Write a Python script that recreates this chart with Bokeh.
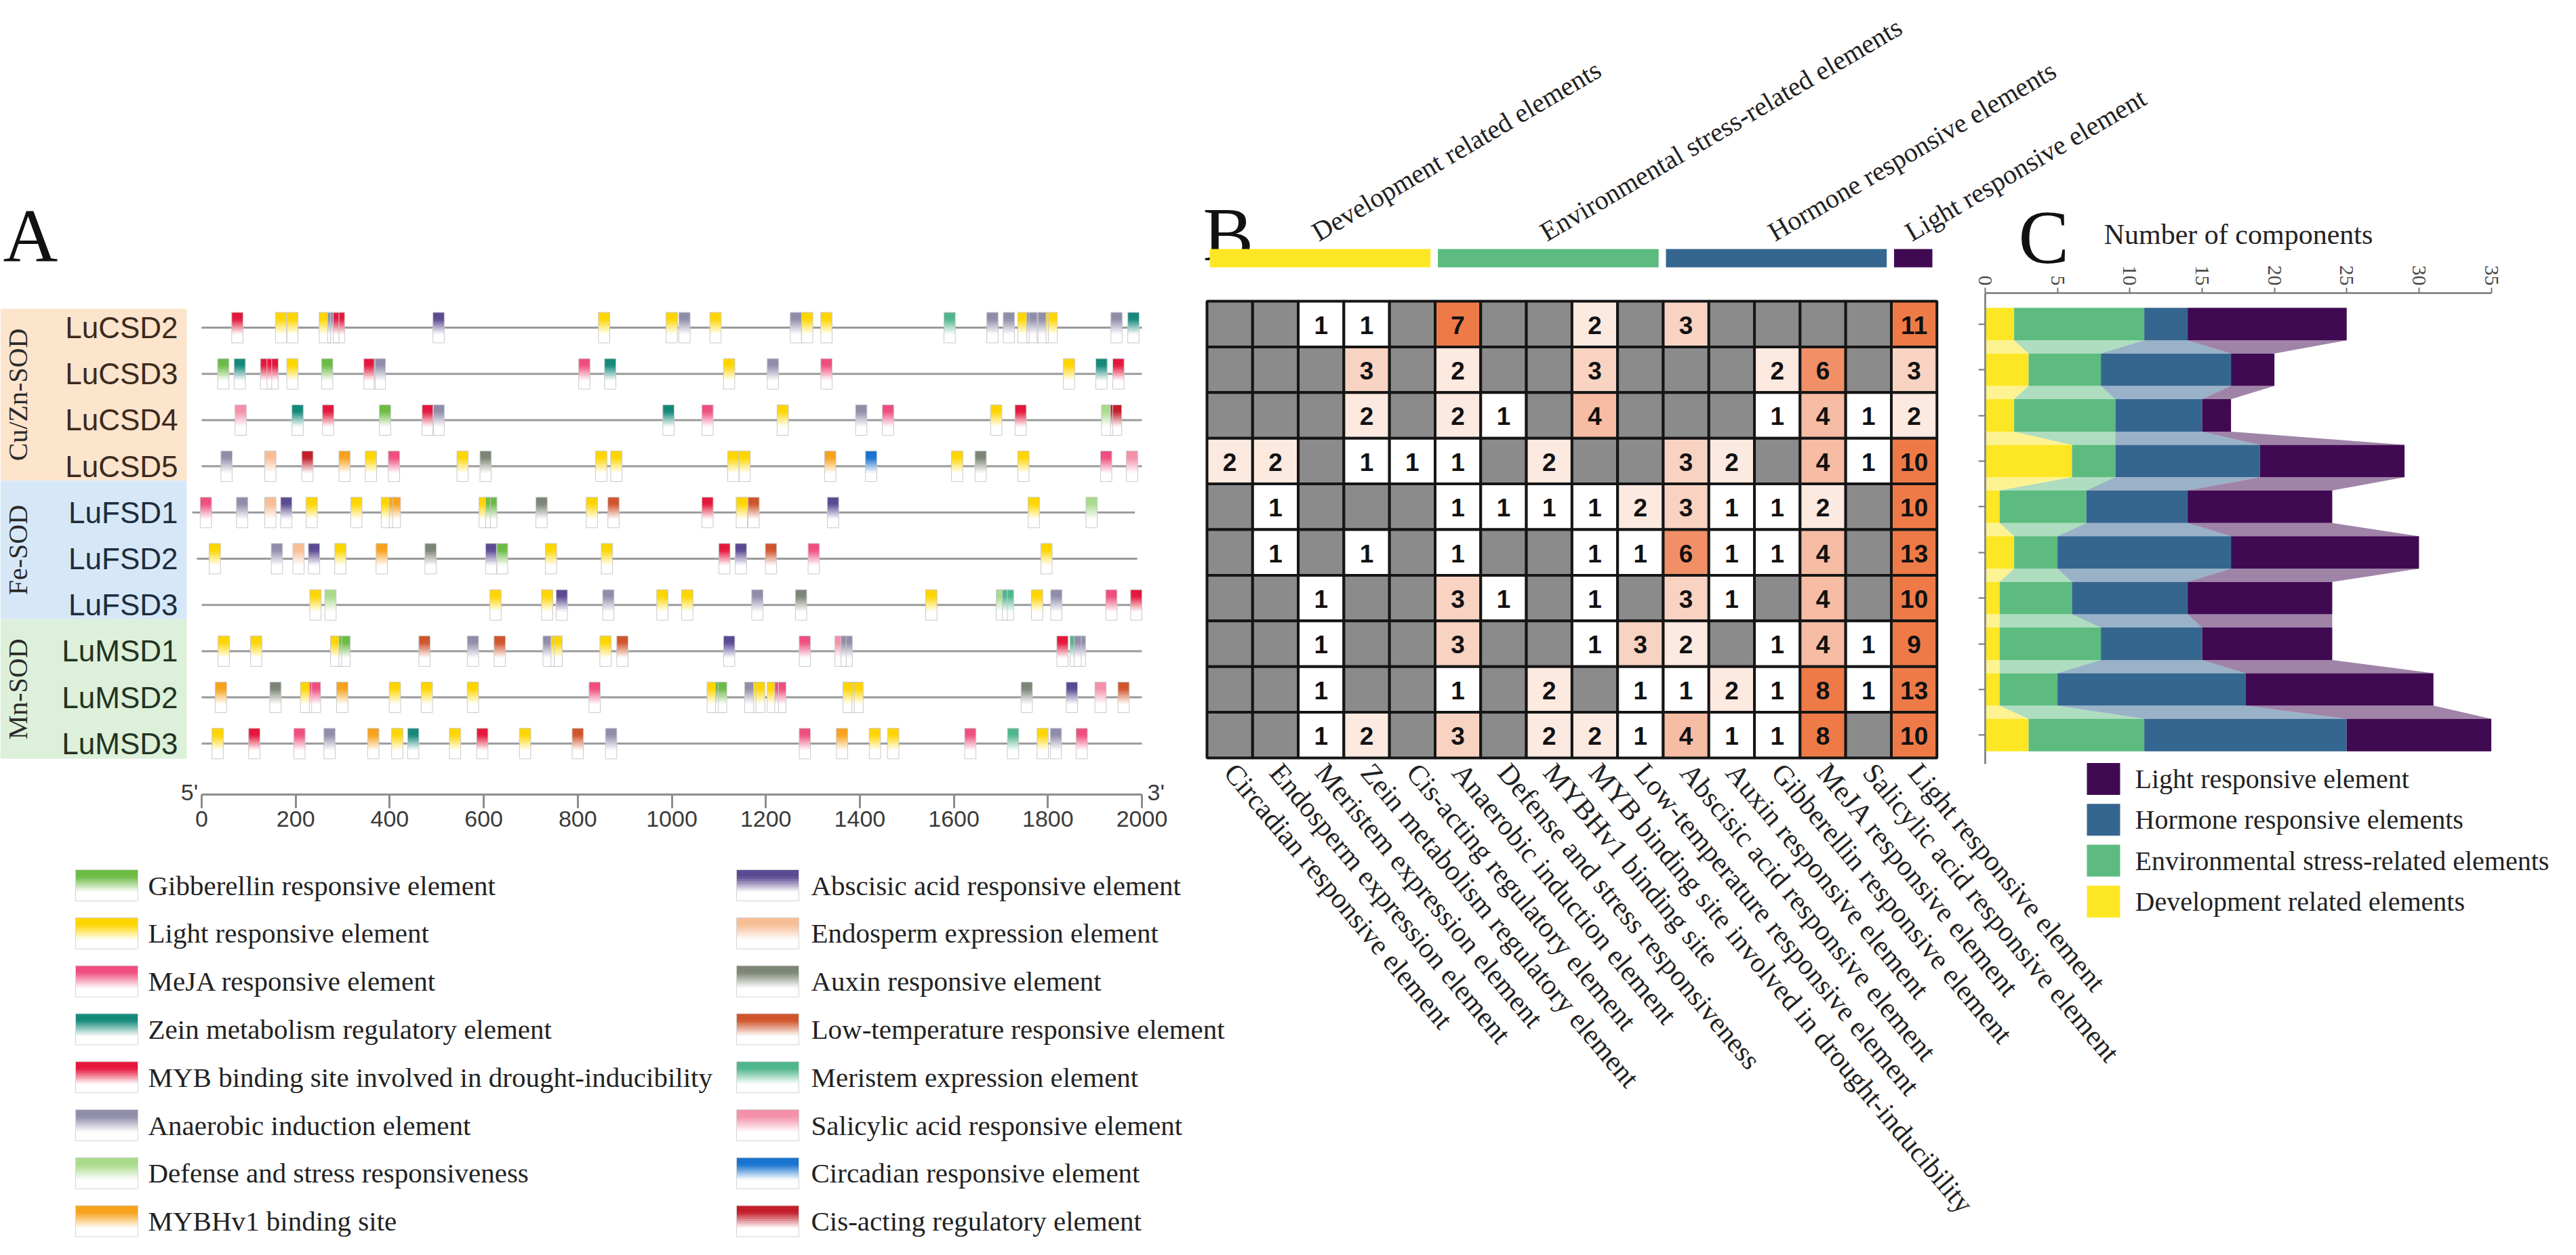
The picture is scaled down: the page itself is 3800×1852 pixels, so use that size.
import math
from bokeh.plotting import figure
from bokeh.models import Range1d, LinearAxis, FixedTicker, ColumnDataSource
from bokeh.core.properties import value
from bokeh.embed import file_html
from bokeh.resources import INLINE

# ======================= DATA =======================
# ---- Panel A : promoter cis-elements ----
genes = ["LuCSD2", "LuCSD3", "LuCSD4", "LuCSD5", "LuFSD1", "LuFSD2", "LuFSD3",
         "LuMSD1", "LuMSD2", "LuMSD3"]
sod_families = ["Cu/Zn-SOD", "Fe-SOD", "Mn-SOD"]
sod_family_sizes = [4, 3, 3]
sod_family_fills = ["#FDE4CC", "#D6E8F8", "#DDF0DA"]
sod_family_ink = ["#3b2b1d", "#1d2d3e", "#213423"]

gene_span_start = [0, 0, 0, 0, -20, -10, 0, 0, 0, 0]
gene_span_end = [2000, 2000, 2000, 2000, 1985, 1990, 2000, 2000, 2000, 2000]
bp_ticks = [0, 200, 400, 600, 800, 1000, 1200, 1400, 1600, 1800, 2000]

element_codes = ["G", "L", "Me", "Z", "MYB", "An", "D", "Hv",
                 "Ab", "En", "Au", "LT", "Mer", "Sa", "Ci", "Cis"]
element_names = ["Gibberellin responsive element", "Light responsive element",
                 "MeJA responsive element", "Zein metabolism regulatory element",
                 "MYB binding site involved in drought-inducibility",
                 "Anaerobic induction element", "Defense and stress responsiveness",
                 "MYBHv1 binding site", "Abscisic acid responsive element",
                 "Endosperm expression element", "Auxin responsive element",
                 "Low-temperature responsive element", "Meristem expression element",
                 "Salicylic acid responsive element", "Circadian responsive element",
                 "Cis-acting regulatory element"]
element_colors = ["#6CBB45", "#FFD500", "#EF4E7E", "#14897B", "#E5173C", "#8F8DAA",
                  "#A9DB8C", "#F7A21B", "#5B4A93", "#F7BE95", "#7D8676", "#D0552C",
                  "#50B68D", "#F490AA", "#1874CF", "#C41E2B"]

sites_LuCSD2 = [(76, "MYB"), (169, "L"), (193, "L"), (262, "L"), (280, "An"), (292, "MYB"),
                (504, "Ab"), (856, "L"), (1000, "L"), (1027, "An"), (1093, "L"), (1264, "An"),
                (1288, "L"), (1329, "L"), (1591, "Mer"), (1682, "An"), (1717, "An"),
                (1748, "L"), (1767, "An"), (1789, "An"), (1808, "L"), (1946, "An"), (1982, "Z")]
sites_LuCSD3 = [(46, "G"), (81, "Z"), (137, "MYB"), (151, "MYB"), (193, "L"), (267, "G"),
                (357, "MYB"), (379, "An"), (814, "Me"), (869, "Z"), (1122, "L"), (1215, "An"),
                (1329, "Me"), (1845, "L"), (1914, "Z"), (1950, "MYB")]
sites_LuCSD4 = [(83, "Sa"), (204, "Z"), (269, "MYB"), (390, "G"), (481, "MYB"), (504, "An"),
                (993, "Z"), (1076, "Me"), (1236, "L"), (1403, "An"), (1460, "Me"), (1690, "L"),
                (1742, "MYB"), (1926, "D"), (1945, "Cis")]
sites_LuCSD5 = [(53, "An"), (146, "En"), (225, "Cis"), (304, "Hv"), (360, "L"), (409, "Me"),
                (555, "L"), (604, "Au"), (850, "L"), (882, "L"), (1131, "L"), (1155, "L"),
                (1337, "Hv"), (1424, "Ci"), (1607, "L"), (1657, "Au"), (1748, "L"),
                (1924, "Me"), (1979, "Sa")]
sites_LuFSD1 = [(9, "Me"), (86, "An"), (146, "En"), (180, "Ab"), (234, "L"), (329, "L"),
                (394, "L"), (411, "Hv"), (602, "L"), (616, "G"), (723, "Au"), (830, "L"),
                (876, "LT"), (1076, "MYB"), (1149, "L"), (1174, "LT"), (1343, "Ab"),
                (1770, "L"), (1893, "D")]
sites_LuFSD2 = [(28, "L"), (160, "An"), (206, "En"), (239, "Ab"), (295, "L"), (383, "Hv"),
                (487, "Au"), (616, "Ab"), (639, "G"), (743, "L"), (862, "L"), (1112, "MYB"),
                (1147, "Ab"), (1211, "LT"), (1302, "Me"), (1797, "L")]
sites_LuFSD3 = [(242, "L"), (274, "D"), (625, "L"), (735, "L"), (766, "Ab"), (865, "An"),
                (980, "L"), (1033, "L"), (1182, "An"), (1275, "Au"), (1552, "L"), (1702, "D"),
                (1715, "Mer"), (1777, "L"), (1818, "An"), (1935, "Me"), (1988, "MYB")]
sites_LuMSD1 = [(47, "L"), (116, "L"), (286, "L"), (304, "G"), (474, "LT"), (577, "An"),
                (634, "LT"), (738, "An"), (755, "L"), (859, "L"), (895, "LT"), (1122, "Ab"),
                (1283, "Me"), (1359, "Sa"), (1372, "An"), (1831, "MYB"), (1859, "Mer"),
                (1868, "An")]
sites_LuMSD2 = [(41, "Hv"), (157, "Au"), (222, "L"), (241, "Me"), (299, "Hv"), (411, "L"),
                (479, "L"), (577, "L"), (836, "Me"), (1087, "L"), (1105, "G"), (1167, "An"),
                (1186, "L"), (1215, "L"), (1231, "Me"), (1376, "L"), (1395, "L"),
                (1755, "Au"), (1851, "Ab"), (1912, "Sa"), (1961, "LT")]
sites_LuMSD3 = [(34, "L"), (112, "MYB"), (208, "Me"), (272, "An"), (365, "Hv"), (416, "L"),
                (450, "Z"), (539, "L"), (597, "MYB"), (688, "L"), (800, "LT"), (871, "An"),
                (1283, "Me"), (1362, "Hv"), (1432, "L"), (1471, "L"), (1635, "Me"),
                (1726, "Mer"), (1789, "L"), (1817, "An"), (1872, "Me")]
all_sites = [sites_LuCSD2, sites_LuCSD3, sites_LuCSD4, sites_LuCSD5, sites_LuFSD1,
             sites_LuFSD2, sites_LuFSD3, sites_LuMSD1, sites_LuMSD2, sites_LuMSD3]

# ---- Panel B : heatmap of element counts ----
hm_columns = ["Circadian responsive element", "Endosperm expression element",
              "Meristem expression element", "Zein metabolism regulatory element",
              "Cis-acting regulatory element", "Anaerobic induction element",
              "Defense and stress responsiveness", "MYBHv1 binding site",
              "MYB binding site involved in drought-inducibility",
              "Low-temperature responsive element", "Abscisic acid responsive element",
              "Auxin responsive element", "Gibberellin responsive element",
              "MeJA responsive element", "Salicylic acid responsive element",
              "Light responsive element"]
hm_LuCSD2 = [0, 0, 1, 1, 0, 7, 0, 0, 2, 0, 3, 0, 0, 0, 0, 11]
hm_LuCSD3 = [0, 0, 0, 3, 0, 2, 0, 0, 3, 0, 0, 0, 2, 6, 0, 3]
hm_LuCSD4 = [0, 0, 0, 2, 0, 2, 1, 0, 4, 0, 0, 0, 1, 4, 1, 2]
hm_LuCSD5 = [2, 2, 0, 1, 1, 1, 0, 2, 0, 0, 3, 2, 0, 4, 1, 10]
hm_LuFSD1 = [0, 1, 0, 0, 0, 1, 1, 1, 1, 2, 3, 1, 1, 2, 0, 10]
hm_LuFSD2 = [0, 1, 0, 1, 0, 1, 0, 0, 1, 1, 6, 1, 1, 4, 0, 13]
hm_LuFSD3 = [0, 0, 1, 0, 0, 3, 1, 0, 1, 0, 3, 1, 0, 4, 0, 10]
hm_LuMSD1 = [0, 0, 1, 0, 0, 3, 0, 0, 1, 3, 2, 0, 1, 4, 1, 9]
hm_LuMSD2 = [0, 0, 1, 0, 0, 1, 0, 2, 0, 1, 1, 2, 1, 8, 1, 13]
hm_LuMSD3 = [0, 0, 1, 2, 0, 3, 0, 2, 2, 1, 4, 1, 1, 8, 0, 10]
hm_rows = [hm_LuCSD2, hm_LuCSD3, hm_LuCSD4, hm_LuCSD5, hm_LuFSD1, hm_LuFSD2, hm_LuFSD3,
           hm_LuMSD1, hm_LuMSD2, hm_LuMSD3]

cat_names = ["Development related elements", "Environmental stress-related elements",
             "Hormone responsive elements", "Light responsive element"]
cat_first_col = [0, 5, 10, 15]
cat_n_cols = [5, 5, 5, 1]
cat_colors = ["#FDE725", "#5DBB7F", "#35668F", "#400A52"]

# ---- Panel C : stacked counts ----
comp_dev = [2, 3, 2, 6, 1, 2, 1, 1, 1, 3]
comp_env = [9, 5, 7, 3, 6, 3, 5, 7, 4, 8]
comp_horm = [3, 9, 6, 10, 7, 12, 8, 7, 13, 14]
comp_light = [11, 3, 2, 10, 10, 13, 10, 9, 13, 10]
count_ticks = [0, 5, 10, 15, 20, 25, 30, 35]
comp_legend_order = [3, 2, 1, 0]   # Light, Hormone, Environmental, Development

# ======================= LAYOUT =======================
W, H = 3784, 1834
OX, OY = 8, 8
SERIF = "Liberation Serif"
SANS = "Liberation Sans"


def xr(a, b):
    return Range1d(start=(OX - a) / b, end=(OX + W - a) / b)


def yr(a, b):
    return Range1d(start=(OY + H - a) / b, end=(OY - a) / b)


# screen = a + b*v
BP_A, BP_B = 305.0, 0.6935
RA_A, RA_B = 491.0, 68.2
COL_A, COL_B = 1788.0, 67.3
RB_A, RB_B = 452.0, 67.4
CNT_A, CNT_B = 2936.0, 21.33

p = figure(width=W, height=H, x_range=xr(0, 1), y_range=yr(0, 1),
           output_backend="svg", toolbar_location=None, min_border=0,
           x_axis_location=None, y_axis_location=None, outline_line_color=None,
           background_fill_color="white", border_fill_color="white")
p.extra_x_ranges = {"bp": xr(BP_A, BP_B), "col": xr(COL_A, COL_B), "cnt": xr(CNT_A, CNT_B)}
p.extra_y_ranges = {"rowA": yr(RA_A, RA_B), "rowB": yr(RB_A, RB_B)}
p.grid.visible = False


def hex_rgb(h):
    h = h.lstrip("#")
    return tuple(int(h[i:i + 2], 16) for i in (0, 2, 4))


def tint(c, a):
    r, g, b = hex_rgb(c)
    return "#%02x%02x%02x" % tuple(int(round(255 + (v - 255) * a)) for v in (r, g, b))


def fade(t):
    if t < 0.22:
        return 1.0
    return max(0.0, 1.0 - (t - 0.22) / 0.5)


def gradient_strips(lefts, rights, tops, bottoms, colors, n=14):
    L, R, T, B, C = [], [], [], [], []
    for l, r, t, b, c in zip(lefts, rights, tops, bottoms, colors):
        for k in range(n):
            t0 = k / n
            t1 = min(1.0, (k + 1) / n + 0.04)
            L.append(l)
            R.append(r)
            T.append(t + (b - t) * t0)
            B.append(t + (b - t) * t1)
            C.append(tint(c, fade((k + 0.5) / n)))
    return dict(left=L, right=R, top=T, bottom=B, color=C)


code_color = dict(zip(element_codes, element_colors))

# ---------------- Panel A ----------------
fam_top, fam_bot, gene_ink = [], [], []
row0 = 0
for i, n in enumerate(sod_family_sizes):
    top = -0.41 if i == 0 else fam_bot[-1]
    last = row0 + n - 1
    bot = last + (0.33 if i == len(sod_family_sizes) - 1 else 0.31)
    fam_top.append(top)
    fam_bot.append(bot)
    gene_ink += [sod_family_ink[i]] * n
    row0 += n
BOX_L = (8 - BP_A) / BP_B
BOX_R = (283 - BP_A) / BP_B
p.quad(left=[BOX_L] * 3, right=[BOX_R] * 3, top=fam_top, bottom=fam_bot,
       fill_color=sod_family_fills, line_color=None,
       x_range_name="bp", y_range_name="rowA")
p.text(x=[(34 - BP_A) / BP_B] * 3, y=[(t + b) / 2 for t, b in zip(fam_top, fam_bot)],
       text=sod_families, angle=math.pi / 2, text_align="center", text_baseline="middle",
       text_font=value(SERIF), text_font_size="40px", text_color="#2a2a2a",
       x_range_name="bp", y_range_name="rowA")

# gene names
p.text(x=[(270 - BP_A) / BP_B] * len(genes), y=list(range(len(genes))), text=genes,
       text_align="right", text_baseline="middle", text_font=value(SANS),
       text_font_size="44px", text_color=gene_ink, x_range_name="bp", y_range_name="rowA")

p.segment(x0=gene_span_start, x1=gene_span_end, y0=list(range(10)), y1=list(range(10)),
          line_color="#9a9a9a", line_width=3, x_range_name="bp", y_range_name="rowA")

HALF_W = 12
el_l, el_r, el_t, el_b, el_c = [], [], [], [], []
for gi, sites in enumerate(all_sites):
    for pos, code in sites:
        el_l.append(pos - HALF_W)
        el_r.append(pos + HALF_W)
        el_t.append(gi - 0.33)
        el_b.append(gi + 0.33)
        el_c.append(code_color[code])
strips = ColumnDataSource(gradient_strips(el_l, el_r, el_t, el_b, el_c))
p.quad(left="left", right="right", top="top", bottom="bottom", fill_color="color",
       line_color=None, source=strips, x_range_name="bp", y_range_name="rowA")
p.quad(left=el_l, right=el_r, top=el_t, bottom=el_b, fill_color=None,
       line_color="#c9c9c9", line_width=1, x_range_name="bp", y_range_name="rowA")

bp_axis = LinearAxis(x_range_name="bp", y_range_name="rowA",
                     fixed_location=(1180 - RA_A) / RA_B, bounds=(0, 2000),
                     ticker=FixedTicker(ticks=bp_ticks))
bp_axis.axis_line_color = "#8c8c8c"
bp_axis.axis_line_width = 3
bp_axis.major_tick_line_color = "#8c8c8c"
bp_axis.major_tick_line_width = 3
bp_axis.major_tick_out = 20
bp_axis.major_tick_in = 0
bp_axis.minor_tick_line_color = None
bp_axis.major_label_standoff = 4
bp_axis.major_label_text_font = SANS
bp_axis.major_label_text_font_size = "34px"
bp_axis.major_label_text_color = "#3a3a3a"
p.add_layout(bp_axis, "below")
p.text(x=[-26, 2030], y=[(1176 - RA_A) / RA_B] * 2, text=["5'", "3'"],
       text_align="center", text_baseline="middle", text_font=value(SANS),
       text_font_size="34px", text_color="#3a3a3a", x_range_name="bp", y_range_name="rowA")

LEG_COL_X = [119, 1094]
LEG_TXT_DX = [107, 110]
LEG_Y0, LEG_DY, SW_W, SW_H = 1314, 70.8, 92, 46
lg_l, lg_r, lg_t, lg_b, lg_tx, lg_ty = [], [], [], [], [], []
for k in range(len(element_codes)):
    col, row = k // 8, k % 8
    yc = LEG_Y0 + LEG_DY * row
    lg_l.append(LEG_COL_X[col])
    lg_r.append(LEG_COL_X[col] + SW_W)
    lg_t.append(yc - SW_H / 2)
    lg_b.append(yc + SW_H / 2)
    lg_tx.append(LEG_COL_X[col] + LEG_TXT_DX[col])
    lg_ty.append(yc)
lsrc = ColumnDataSource(gradient_strips(lg_l, lg_r, lg_t, lg_b, element_colors))
p.quad(left="left", right="right", top="top", bottom="bottom", fill_color="color",
       line_color=None, source=lsrc)
p.quad(left=lg_l, right=lg_r, top=lg_t, bottom=lg_b, fill_color=None,
       line_color="#d4d4d4", line_width=1)
p.text(x=lg_tx, y=lg_ty, text=element_names, text_align="left", text_baseline="middle",
       text_font=value(SERIF), text_font_size="41px", text_color="#222222")

p.text(x=[12, 1782, 2985], y=[355, 353, 357], text=["A", "B", "C"], text_align="left",
       text_baseline="alphabetic", text_font=value(SERIF), text_font_size="112px",
       text_color="#111111")

# ---------------- Panel B ----------------
p.quad(left=[c + 0.06 for c in cat_first_col],
       right=[c + n - 0.1 for c, n in zip(cat_first_col, cat_n_cols)],
       top=[-1.142] * 4, bottom=[-0.742] * 4, fill_color=cat_colors, line_color=None,
       x_range_name="col", y_range_name="rowB")
p.text(x=[c + n / 2 - 0.15 for c, n in zip(cat_first_col, cat_n_cols)], y=[-1.47] * 4,
       text=cat_names, angle=0.53, text_align="left", text_baseline="alphabetic",
       text_font=value(SERIF), text_font_size="40px", text_color="#222222",
       x_range_name="col", y_range_name="rowB")


def heat_color(v):
    if v <= 0:
        return "#8B8B8B"
    t = min((v - 1) / 6.0, 1.0)
    return tint("#EE7A48", t)


hx, hy, hv, hc = [], [], [], []
for i, rowv in enumerate(hm_rows):
    for j, v in enumerate(rowv):
        hx.append(j)
        hy.append(i)
        hv.append(str(v) if v > 0 else "")
        hc.append(heat_color(v))
p.quad(left=hx, right=[x + 1 for x in hx], top=hy, bottom=[y + 1 for y in hy],
       fill_color=hc, line_color="#151515", line_width=4,
       x_range_name="col", y_range_name="rowB")
nz = [k for k in range(len(hv)) if hv[k]]
p.text(x=[hx[k] + 0.5 for k in nz], y=[hy[k] + 0.52 for k in nz], text=[hv[k] for k in nz],
       text_align="center", text_baseline="middle", text_font=value(SANS),
       text_font_style="bold", text_font_size="37px", text_color="#111111",
       x_range_name="col", y_range_name="rowB")

col_axis = LinearAxis(x_range_name="col", y_range_name="rowB", fixed_location=len(hm_rows),
                      ticker=FixedTicker(ticks=[j + 0.5 for j in range(len(hm_columns))]),
                      major_label_overrides={j + 0.5: n for j, n in enumerate(hm_columns)})
col_axis.axis_line_color = None
col_axis.major_tick_line_color = None
col_axis.minor_tick_line_color = None
col_axis.major_label_orientation = -0.87
col_axis.major_label_standoff = 8
col_axis.major_label_text_font = SERIF
col_axis.major_label_text_font_size = "42px"
col_axis.major_label_text_color = "#222222"
p.add_layout(col_axis, "below")

# ---------------- Panel C ----------------
series = [comp_dev, comp_env, comp_horm, comp_light]
BAR_H = 0.71
starts, ends = [], []
acc = [0] * 10
for s in series:
    st = list(acc)
    acc = [a + v for a, v in zip(acc, s)]
    starts.append(st)
    ends.append(list(acc))
bar_top = [i + 0.5 - BAR_H / 2 for i in range(10)]
bar_bot = [i + 0.5 + BAR_H / 2 for i in range(10)]
for k in range(4):
    xs, ys = [], []
    for i in range(9):
        xs.append([starts[k][i], ends[k][i], ends[k][i + 1], starts[k][i + 1]])
        ys.append([bar_bot[i], bar_bot[i], bar_top[i + 1], bar_top[i + 1]])
    p.patches(xs=xs, ys=ys, fill_color=cat_colors[k], fill_alpha=0.5, line_color=None,
              x_range_name="cnt", y_range_name="rowB")
for k in range(4):
    p.quad(left=starts[k], right=ends[k], top=bar_top, bottom=bar_bot,
           fill_color=cat_colors[k], line_color=None,
           x_range_name="cnt", y_range_name="rowB")

cnt_axis = LinearAxis(x_range_name="cnt", y_range_name="rowB",
                      fixed_location=(440 - RB_A) / RB_B, bounds=(0, 35),
                      ticker=FixedTicker(ticks=count_ticks))
cnt_axis.axis_line_color = "#8c8c8c"
cnt_axis.axis_line_width = 3
cnt_axis.major_tick_line_color = "#777777"
cnt_axis.major_tick_line_width = 2
cnt_axis.major_tick_out = 8
cnt_axis.major_tick_in = 0
cnt_axis.minor_tick_line_color = None
cnt_axis.major_label_orientation = -math.pi / 2
cnt_axis.major_label_standoff = 3
cnt_axis.major_label_text_font = SERIF
cnt_axis.major_label_text_font_size = "30px"
cnt_axis.major_label_text_color = "#444444"
cnt_axis.axis_label = "Number of components"
cnt_axis.axis_label_standoff = 20
cnt_axis.axis_label_text_font = SERIF
cnt_axis.axis_label_text_font_style = "normal"
cnt_axis.axis_label_text_font_size = "42px"
cnt_axis.axis_label_text_color = "#222222"
p.add_layout(cnt_axis, "above")

row_axis = LinearAxis(x_range_name="cnt", y_range_name="rowB", fixed_location=0,
                      bounds=((440 - RB_A) / RB_B, (1135 - RB_A) / RB_B),
                      ticker=FixedTicker(ticks=[], minor_ticks=[i + 0.5 for i in range(10)]))
row_axis.axis_line_color = "#8c8c8c"
row_axis.axis_line_width = 3
row_axis.major_tick_line_color = None
row_axis.minor_tick_line_color = "#777777"
row_axis.minor_tick_line_width = 2
row_axis.minor_tick_out = 10
row_axis.minor_tick_in = 0
p.add_layout(row_axis, "left")

CL_X, CL_W, CL_H, CL_Y0, CL_DY, CL_TX = 3086, 49, 47, 1157, 60.3, 3157
cl_y = [CL_Y0 + CL_DY * r for r in range(4)]
p.quad(left=[CL_X] * 4, right=[CL_X + CL_W] * 4, top=[y - CL_H / 2 for y in cl_y],
       bottom=[y + CL_H / 2 for y in cl_y], fill_color=[cat_colors[k] for k in comp_legend_order],
       line_color=None)
p.text(x=[CL_TX] * 4, y=cl_y, text=[cat_names[k] for k in comp_legend_order],
       text_align="left", text_baseline="middle", text_font=value(SERIF),
       text_font_size="40px", text_color="#222222")

open("out.html", "w").write(file_html(p, INLINE, title="SOD promoter elements"))
